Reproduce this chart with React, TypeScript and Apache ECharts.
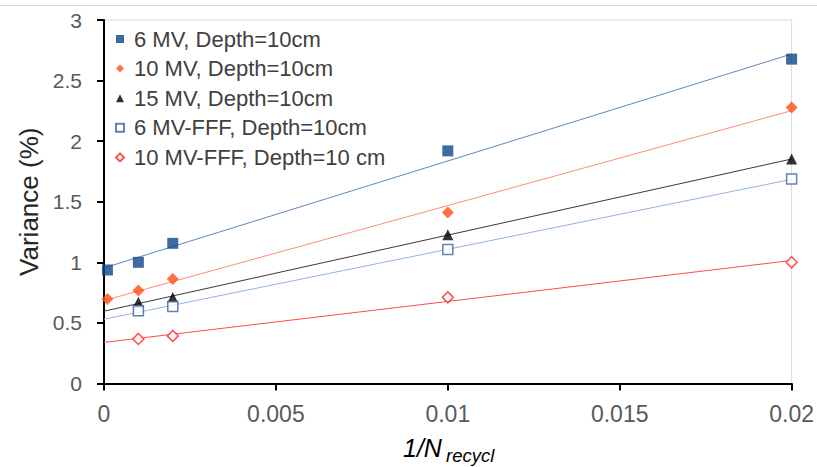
import React, { useEffect, useRef } from "react";
import * as echarts from "echarts";

const seriesNames = [
  "6 MV, Depth=10cm",
  "10 MV, Depth=10cm",
  "15 MV, Depth=10cm",
  "6 MV-FFF, Depth=10cm",
  "10 MV-FFF, Depth=10 cm",
];

const x6MV = [0.0001, 0.001, 0.002, 0.01, 0.02];
const y6MV = [0.937, 1.0, 1.157, 1.92, 2.677];
const x10MV = [0.0001, 0.001, 0.002, 0.01, 0.02];
const y10MV = [0.698, 0.767, 0.863, 1.412, 2.278];
const x15MV = [0.001, 0.002, 0.01, 0.02];
const y15MV = [0.67, 0.71, 1.228, 1.852];
const x6FFF = [0.001, 0.002, 0.01, 0.02];
const y6FFF = [0.6, 0.635, 1.105, 1.687];
const x10FFF = [0.001, 0.002, 0.01, 0.02];
const y10FFF = [0.368, 0.393, 0.711, 1.0];

const xTicks = [0, 0.005, 0.01, 0.015, 0.02];
const yTicks = [0, 0.5, 1, 1.5, 2, 2.5, 3];

const FONT = "'Liberation Sans', Arial, sans-serif";

function fit(xs: number[], ys: number[]) {
  const n = xs.length;
  const mx = xs.reduce((a, b) => a + b, 0) / n;
  const my = ys.reduce((a, b) => a + b, 0) / n;
  let sxx = 0;
  let sxy = 0;
  for (let i = 0; i < n; i++) {
    sxx += (xs[i] - mx) * (xs[i] - mx);
    sxy += (xs[i] - mx) * (ys[i] - my);
  }
  const m = sxy / sxx;
  const b = my - m * mx;
  return (x: number) => b + m * x;
}

export default function App() {
  const ref = useRef<HTMLDivElement>(null);
  useEffect(() => {
    if (!ref.current) return;
    const chart = echarts.init(ref.current, null, { renderer: "svg" });
    const xMin = xTicks[0];
    const xMax = xTicks[xTicks.length - 1];
    const groups = [
      { name: seriesNames[0], xs: x6MV, ys: y6MV, symbol: "rect", size: 11, item: { color: "#0f468a" }, line: "#5b86c0" },
      { name: seriesNames[1], xs: x10MV, ys: y10MV, symbol: "diamond", size: 12, item: { color: "#ff4d14" }, line: "#ff8e74" },
      { name: seriesNames[2], xs: x15MV, ys: y15MV, symbol: "triangle", size: 11, item: { color: "#000000" }, line: "#3a3a3a" },
      { name: seriesNames[3], xs: x6FFF, ys: y6FFF, symbol: "rect", size: 10, item: { color: "#ffffff", borderColor: "#3d62a2", borderWidth: 1.5 }, line: "#93b3de" },
      { name: seriesNames[4], xs: x10FFF, ys: y10FFF, symbol: "diamond", size: 11, item: { color: "#ffffff", borderColor: "#ff2424", borderWidth: 1.5 }, line: "#ff4c4c" },
    ];
    const series: any[] = [];
    groups.forEach((g) => {
      const f = fit(g.xs, g.ys);
      series.push({
        type: "line",
        name: g.name + " trend",
        data: [[xMin, f(xMin)], [xMax, f(xMax)]],
        showSymbol: false,
        symbol: "none",
        silent: true,
        z: 1,
        lineStyle: { color: g.line, width: 1 },
      });
    });
    groups.forEach((g) => {
      series.push({
        type: "scatter",
        name: g.name,
        data: g.xs.map((x, i) => [x, g.ys[i]]),
        symbol: g.symbol,
        symbolSize: g.size,
        itemStyle: g.item,
        z: 3,
      });
    });
    chart.setOption({
      animation: false,
      backgroundColor: "#ffffff",
      grid: {
        left: 104,
        right: 24,
        top: 20,
        bottom: 83.5,
        show: true,
        borderColor: "#d9d9d9",
        borderWidth: 1,
        backgroundColor: "transparent",
      },
      legend: {
        data: seriesNames,
        orient: "vertical",
        left: 110,
        top: 23,
        itemWidth: 8,
        itemHeight: 8,
        itemGap: 7.6,
        textStyle: { fontFamily: FONT, fontSize: 22, color: "#404040", lineHeight: 22, padding: [0, 0, 0, 5] },
      },
      xAxis: {
        type: "value",
        min: xMin,
        max: xMax,
        interval: xTicks[1] - xTicks[0],
        axisLine: { show: true, onZero: false, lineStyle: { color: "#000", width: 2 } },
        axisTick: { show: true, length: 7, lineStyle: { color: "#000", width: 2 } },
        axisLabel: {
          fontFamily: FONT,
          fontSize: 23,
          color: "#595959",
          margin: 19,
          formatter: (v: number) => String(+v.toFixed(4)),
        },
        splitLine: { show: false },
      },
      yAxis: {
        type: "value",
        min: yTicks[0],
        max: yTicks[yTicks.length - 1],
        interval: yTicks[1] - yTicks[0],
        name: "Variance (%)",
        nameLocation: "middle",
        nameRotate: 90,
        nameGap: 62,
        nameTextStyle: { fontFamily: FONT, fontSize: 26, color: "#262626" },
        axisLine: { show: true, onZero: false, lineStyle: { color: "#000", width: 2 } },
        axisTick: { show: true, length: 7, lineStyle: { color: "#000", width: 2 } },
        axisLabel: {
          fontFamily: FONT,
          fontSize: 21,
          color: "#595959",
          margin: 22,
          formatter: (v: number) => String(+v.toFixed(2)),
        },
        splitLine: { show: false },
      },
      graphic: [
        {
          type: "line",
          shape: { x1: 0, y1: 5.5, x2: 817, y2: 5.5 },
          style: { stroke: "#d9d9d9", lineWidth: 1 },
          silent: true,
        },
        {
          type: "text",
          x: 403,
          y: 448.3,
          style: { text: "1/N", font: `italic 25px ${FONT}`, fill: "#000", align: "left", verticalAlign: "middle" },
          silent: true,
        },
        {
          type: "text",
          x: 446,
          y: 455.1,
          style: { text: "recycl", font: `italic 18.5px ${FONT}`, fill: "#000", align: "left", verticalAlign: "middle" },
          silent: true,
        },
      ],
      series,
    });
    return () => chart.dispose();
  }, []);
  return (
    <div
      ref={ref}
      style={{ position: "fixed", left: 0, top: 0, width: 817, height: 467 }}
    />
  );
}
